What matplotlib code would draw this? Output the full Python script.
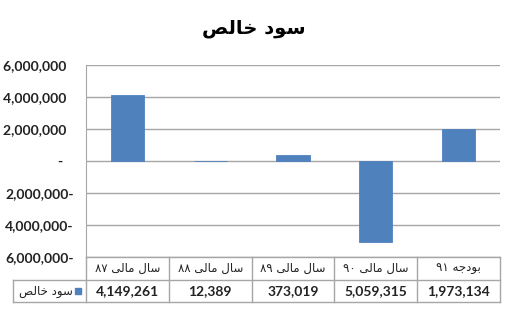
import numpy as np
import matplotlib.pyplot as plt
import matplotlib.transforms as mtransforms
from matplotlib.ticker import FuncFormatter

# persian words written as presentation forms in visual (left to right) order,
# matplotlib does no arabic shaping / bidi on its own
sal = "\uFEDD\uFE8E\uFEB3"               # سال
mali = "\uFEF0\uFEDF\uFE8E\uFEE3"        # مالی
budje = "\uFEEA\uFE9F\uFEA9\uFEEE\uFE91"  # بودجه
sood = "\uFEA9\uFEEE\uFEB3"              # سود
khales = "\uFEBA\uFEDF\uFE8E\uFEA7"      # خالص

years = ["\u0668\u0667", "\u0668\u0668", "\u0668\u0669", "\u0669\u0660"]
categories = [y + " " + mali + " " + sal for y in years] + ["\u0669\u0661 " + budje]
series_name = khales + " " + sood
values = [4149261, -12389, 373019, -5059315, 1973134]
yticks = [-6000000, -4000000, -2000000, 0, 2000000, 4000000, 6000000]

blue = '#4F81BD'
grid_c = '#A6A6A6'
num_font = ['Lato', 'DejaVu Sans']

fig = plt.figure(figsize=(5.05, 3.1), dpi=100)
ax = fig.add_axes([86/505, 1-257/310, 414/505, 192/310])

x = np.arange(len(values))
ax.bar(x, values, width=0.4, color=blue, edgecolor=blue, lw=0.6, zorder=3)

ax.set_xlim(-0.5, len(values)-0.5)
ax.set_ylim(-6000000, 6000000)
ax.set_yticks(yticks)

def fmt(v, pos):
    if v == 0:
        return "-\u2003"
    if v < 0:
        return f"{abs(int(v)):,}-"
    return f"{int(v):,}\u2002"

ax.yaxis.set_major_formatter(FuncFormatter(fmt))
ax.tick_params(axis='y', length=0, pad=9, labelcolor='#222222')
for lab in ax.get_yticklabels():
    lab.set_family(num_font)
    lab.set_fontweight('bold')
    lab.set_fontsize(10)
ax.set_xticks([])
ax.grid(axis='y', color=grid_c, lw=1, zorder=1)
for s in ['top', 'right', 'bottom']:
    ax.spines[s].set_visible(False)
ax.spines['left'].set_color(grid_c)

fig.text(0.502, 1-29/310, series_name, ha='center', va='center',
         fontsize=14, fontweight='bold', family='DejaVu Sans')

# data table under the plot
tr = mtransforms.blended_transform_factory(ax.transData, ax.transAxes)
y_top, y_mid, y_bot = 0.0, -23/192, -45/192
x_leg = -0.5 - 73/82.8
x_end = len(values) - 0.5
lkw = dict(color=grid_c, lw=1, transform=tr, clip_on=False)
ax.plot([-0.5, x_end], [y_top, y_top], **lkw)
ax.plot([x_leg, x_end], [y_mid, y_mid], **lkw)
ax.plot([x_leg, x_end], [y_bot, y_bot], **lkw)
ax.plot([x_leg, x_leg], [y_mid, y_bot], **lkw)
for b in np.arange(len(values)+1) - 0.5:
    ax.plot([b, b], [y_top, y_bot], **lkw)

for i, (c, v) in enumerate(zip(categories, values)):
    ax.text(i, (y_top+y_mid)/2, c, transform=tr, ha='center', va='center',
            fontsize=8.5, family='DejaVu Sans', color='#222222')
    ax.text(i, (y_mid+y_bot)/2, f"{abs(v):,}", transform=tr, ha='center', va='center',
            fontsize=10, fontweight='bold', family=num_font, color='#222222')

ax.plot([-0.5 - 8/82.8], [(y_mid+y_bot)/2], marker='s', ms=5, color=blue,
        transform=tr, clip_on=False)
ax.text(-0.5 - 13/82.8, (y_mid+y_bot)/2, series_name, transform=tr, ha='right',
        va='center', fontsize=8.5, family='DejaVu Sans', color='#222222')

fig.savefig('out.png', dpi=100)
